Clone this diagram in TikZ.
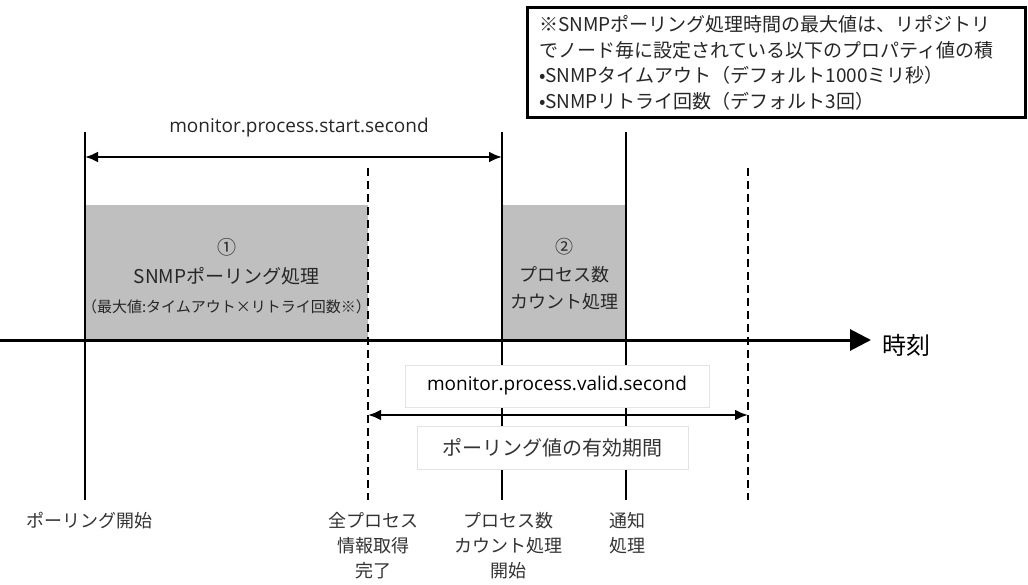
\documentclass[tikz,border=0pt]{standalone}
\usepackage{fontspec}
\setmainfont{Noto Sans CJK JP}
\newfontfamily\latfont{Open Sans}
\usetikzlibrary{arrows.meta}
\tikzset{
    procbox/.style = {draw=none, fill=gray!50, inner sep=0pt},
    proctext/.style = {align=center, text=black!85, inner sep=0pt},
    labelbox/.style = {draw=gray!22, fill=white, line width=1pt, inner sep=0pt},
    notebox/.style = {draw=black, line width=3pt, fill=white, align=left, text width=474pt, inner xsep=12pt, minimum height=110pt, font=\fontsize{19}{25.5}\selectfont, text=black!85},
    tagtext/.style = {align=center, anchor=north, inner sep=0pt, font=\fontsize{18}{25}\selectfont, text=black!80},
    edgen/.style = {-, line width=2pt, black},
    edged/.style = {-, line width=2pt, black, dash pattern=on 8pt off 5pt},
    edgea/.style = {{Latex[length=13pt,width=11pt]}-{Latex[length=13pt,width=11pt]}, line width=2.5pt, black},
    edget/.style = {-{Triangle[length=21pt,width=21pt]}, line width=3pt, black}
}

\begin{document}
\begin{tikzpicture}[x=1pt,y=-1pt]
\path[use as bounding box] (0,0) rectangle (1028,585);
% process boxes
\node[procbox, minimum width=283pt, minimum height=135pt] at (226.5,272.5) (snmpbox) {};
\node[procbox, minimum width=124pt, minimum height=135pt] at (564,272.5) (countbox) {};
%
\coordinate (t0top) at (85,132);  \coordinate (t0bot) at (85,500);
\coordinate (t1top) at (368,168); \coordinate (t1bot) at (368,500);
\coordinate (t2top) at (502,132); \coordinate (t2bot) at (502,500);
\coordinate (t3top) at (626,132); \coordinate (t3bot) at (626,500);
\coordinate (t4top) at (748,168); \coordinate (t4bot) at (748,500);
\draw[edgen] (t0top) -- (t0bot);
\draw[edged] (t1top) -- (t1bot);
\draw[edgen] (t2top) -- (t2bot);
\draw[edgen] (t3top) -- (t3bot);
\draw[edged] (t4top) -- (t4bot);
%
\node[labelbox, minimum width=304pt, minimum height=42pt, font=\latfont\fontsize{19}{22}\selectfont] at (557,386) (validlbl) {monitor.process.valid.second};
\node[labelbox, minimum width=271pt, minimum height=43pt, font=\fontsize{20}{24}\selectfont, text=black!80] at (552.5,447.5) (periodlbl) {ポーリング値の有効期間};
%
\coordinate (sa) at (85,157);  \coordinate (sb) at (502,157);
\coordinate (va) at (368,415); \coordinate (vb) at (748,415);
\draw[edgea] (sa) -- (sb);
\draw[edgea] (va) -- (vb);
\node[font=\latfont\fontsize{19}{22}\selectfont, text=black!85] at (299,128) (startlbl) {monitor.process.start.second};
%
\coordinate (axstart) at (0,340); \coordinate (axend) at (871,340);
\draw[edget] (axstart) -- (axend);
\node[font=\fontsize{24}{28}\selectfont, anchor=west, inner sep=0pt] at (882,345) (timelbl) {時刻};
%
\node[proctext, font=\fontsize{19}{29}\selectfont] at (226.5,276) (snmptxt) {①\\SNMPポーリング処理\\{\fontsize{15}{29}\selectfont（最大値:タイムアウト×リトライ回数※）}};
\node[proctext, font=\fontsize{18}{27.5}\selectfont] at (564,274.5) (counttxt) {②\\プロセス数\\カウント処理};
%
\node[notebox] at (776,63) (note) {※SNMPポーリング処理時間の最大値は、リポジトリ\\でノード毎に設定されている以下のプロパティ値の積\\•SNMPタイムアウト（デフォルト1000ミリ秒）\\•SNMPリトライ回数（デフォルト3回）};
%
\node[tagtext] at (89,512) (tag0) {ポーリング開始};
\node[tagtext] at (373,512) (tag1) {全プロセス\\情報取得\\完了};
\node[tagtext] at (508,512) (tag2) {プロセス数\\カウント処理\\開始};
\node[tagtext] at (627,512) (tag3) {通知\\処理};
\end{tikzpicture}
\end{document}
